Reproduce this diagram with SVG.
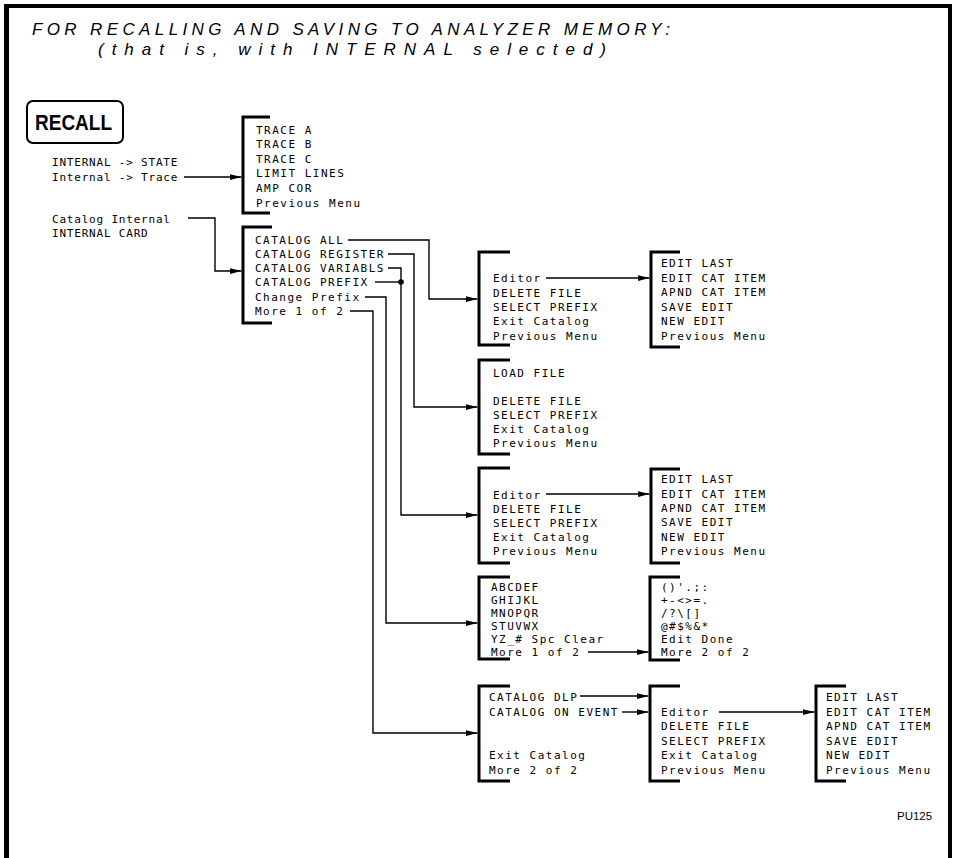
<svg xmlns="http://www.w3.org/2000/svg" width="956" height="858" viewBox="0 0 956 858">
<style>
.t{font-family:"DejaVu Sans Mono","Liberation Mono",monospace;font-size:11px;letter-spacing:1.5px;fill:#000}
.lbl{font-family:"DejaVu Sans Mono","Liberation Mono",monospace;font-size:11px;letter-spacing:0.8px;fill:#000}
.title{font-family:"Liberation Sans",Arial,sans-serif;font-style:italic;font-size:17px;fill:#000}
.br{fill:none;stroke:#000;stroke-width:3}
.c{fill:none;stroke:#000;stroke-width:1.4}
.ca{fill:none;stroke:#000;stroke-width:1.4;marker-end:url(#ah)}
</style>
<defs>
<marker id="ah" markerWidth="13" markerHeight="8" refX="12" refY="4" orient="auto" markerUnits="userSpaceOnUse"><path d="M0,1 L12,4 L0,7 Z" fill="#000"/></marker>
</defs>
<rect width="956" height="858" fill="#fff"/>
<g id="border">
<path d="M6.5,858 V6 H950 V858" fill="none" stroke="#000" stroke-width="4"/>
<line x1="6.5" y1="4" x2="6.5" y2="858" stroke="#000" stroke-width="5"/>
</g>
<g id="title">
<text class="title" x="32" y="35" textLength="638" lengthAdjust="spacing">FOR RECALLING AND SAVING TO ANALYZER MEMORY:</text>
<text class="title" x="98" y="55" textLength="508" lengthAdjust="spacing">(that is, with INTERNAL selected)</text>
</g>
<g id="recall">
<rect x="27" y="101" width="96" height="42" rx="6" fill="none" stroke="#000" stroke-width="2"/>
<text x="35" y="130" font-family="Liberation Sans,Arial,sans-serif" font-weight="bold" font-size="22" textLength="77" lengthAdjust="spacingAndGlyphs">RECALL</text>
</g>
<g id="labels">
<text class="lbl" x="52" y="166">INTERNAL -&gt; STATE</text>
<text class="lbl" x="52" y="181">Internal -&gt; Trace</text>
<text class="lbl" x="52" y="223">Catalog Internal</text>
<text class="lbl" x="52" y="237">INTERNAL CARD</text>
</g>
<g id="menu-trace">
<path class="br" d="M270,117 H243 V213 H270"/>
<text class="t" x="256" y="134">TRACE A</text>
<text class="t" x="256" y="148">TRACE B</text>
<text class="t" x="256" y="163">TRACE C</text>
<text class="t" x="256" y="177">LIMIT LINES</text>
<text class="t" x="256" y="192">AMP COR</text>
<text class="t" x="256" y="207">Previous Menu</text>
</g>
<g id="menu-catalog">
<path class="br" d="M272,227 H243 V323 H272"/>
<text class="t" x="255" y="244">CATALOG ALL</text>
<text class="t" x="255" y="258">CATALOG REGISTER</text>
<text class="t" x="255" y="272">CATALOG VARIABLS</text>
<text class="t" x="255" y="286">CATALOG PREFIX</text>
<text class="t" x="255" y="301">Change Prefix</text>
<text class="t" x="255" y="315">More 1 of 2</text>
</g>
<g id="menu-all">
<path class="br" d="M510,252 H479 V345 H510"/>
<text class="t" x="493" y="282">Editor</text>
<text class="t" x="493" y="297">DELETE FILE</text>
<text class="t" x="493" y="311">SELECT PREFIX</text>
<text class="t" x="493" y="325">Exit Catalog</text>
<text class="t" x="493" y="340">Previous Menu</text>
</g>
<g id="menu-edit1">
<path class="br" d="M680,252 H651 V347 H680"/>
<text class="t" x="661" y="267">EDIT LAST</text>
<text class="t" x="661" y="282">EDIT CAT ITEM</text>
<text class="t" x="661" y="296">APND CAT ITEM</text>
<text class="t" x="661" y="311">SAVE EDIT</text>
<text class="t" x="661" y="325">NEW EDIT</text>
<text class="t" x="661" y="340">Previous Menu</text>
</g>
<g id="menu-register">
<path class="br" d="M510,360 H479 V454 H510"/>
<text class="t" x="493" y="377">LOAD FILE</text>
<text class="t" x="493" y="405">DELETE FILE</text>
<text class="t" x="493" y="419">SELECT PREFIX</text>
<text class="t" x="493" y="433">Exit Catalog</text>
<text class="t" x="493" y="447">Previous Menu</text>
</g>
<g id="menu-variabls">
<path class="br" d="M510,468 H479 V563 H510"/>
<text class="t" x="493" y="499">Editor</text>
<text class="t" x="493" y="513">DELETE FILE</text>
<text class="t" x="493" y="527">SELECT PREFIX</text>
<text class="t" x="493" y="541">Exit Catalog</text>
<text class="t" x="493" y="555">Previous Menu</text>
</g>
<g id="menu-edit2">
<path class="br" d="M680,469 H651 V563 H680"/>
<text class="t" x="661" y="483">EDIT LAST</text>
<text class="t" x="661" y="498">EDIT CAT ITEM</text>
<text class="t" x="661" y="512">APND CAT ITEM</text>
<text class="t" x="661" y="526">SAVE EDIT</text>
<text class="t" x="661" y="541">NEW EDIT</text>
<text class="t" x="661" y="555">Previous Menu</text>
</g>
<g id="menu-alpha1">
<path class="br" d="M510,577 H479 V659 H510"/>
<text class="t" x="491" y="591">ABCDEF</text>
<text class="t" x="491" y="604">GHIJKL</text>
<text class="t" x="491" y="617">MNOPQR</text>
<text class="t" x="491" y="630">STUVWX</text>
<text class="t" x="491" y="643">YZ_# Spc Clear</text>
<text class="t" x="491" y="656">More 1 of 2</text>
</g>
<g id="menu-alpha2">
<path class="br" d="M680,577 H650 V660 H680"/>
<text class="t" x="661" y="591">()'.;:</text>
<text class="t" x="661" y="604">+-&lt;&gt;=.</text>
<text class="t" x="661" y="617">/?\[]</text>
<text class="t" x="661" y="630">@#$%&amp;*</text>
<text class="t" x="661" y="643">Edit Done</text>
<text class="t" x="661" y="656">More 2 of 2</text>
</g>
<g id="menu-more2">
<path class="br" d="M510,686 H479 V781 H510"/>
<text class="t" x="489" y="701">CATALOG DLP</text>
<text class="t" x="489" y="716">CATALOG ON EVENT</text>
<text class="t" x="489" y="759">Exit Catalog</text>
<text class="t" x="489" y="774">More 2 of 2</text>
</g>
<g id="menu-dlp">
<path class="br" d="M680,686 H650 V781 H680"/>
<text class="t" x="661" y="716">Editor</text>
<text class="t" x="661" y="730">DELETE FILE</text>
<text class="t" x="661" y="745">SELECT PREFIX</text>
<text class="t" x="661" y="759">Exit Catalog</text>
<text class="t" x="661" y="774">Previous Menu</text>
</g>
<g id="menu-edit3">
<path class="br" d="M846,686 H816 V781 H846"/>
<text class="t" x="826" y="701">EDIT LAST</text>
<text class="t" x="826" y="716">EDIT CAT ITEM</text>
<text class="t" x="826" y="730">APND CAT ITEM</text>
<text class="t" x="826" y="745">SAVE EDIT</text>
<text class="t" x="826" y="759">NEW EDIT</text>
<text class="t" x="826" y="774">Previous Menu</text>
</g>
<g id="connectors">
<path class="ca" d="M184,177 H241.5"/>
<path class="ca" d="M188,218 H215 V271 H241.5"/>
<path class="ca" d="M348,240 H429 V299 H477.5"/>
<path class="ca" d="M388,254 H414 V407 H477.5"/>
<path class="ca" d="M388,268 H401 V515 H477.5"/>
<path class="c" d="M375,282 H401"/>
<circle cx="401" cy="282" r="2.8" fill="#000"/>
<path class="ca" d="M365,297 H386 V623 H477.5"/>
<path class="ca" d="M350,311 H373 V733 H477.5"/>
<path class="ca" d="M546,278 H649.5"/>
<path class="ca" d="M546,494 H649.5"/>
<path class="ca" d="M588,652 H648.5"/>
<path class="ca" d="M580,696 H648.5"/>
<path class="ca" d="M622,712 H648.5"/>
<path class="ca" d="M719,712 H814.5"/>
</g>
<text x="897" y="820" font-family="Liberation Sans,Arial,sans-serif" font-size="11.5" fill="#000">PU125</text>
</svg>
